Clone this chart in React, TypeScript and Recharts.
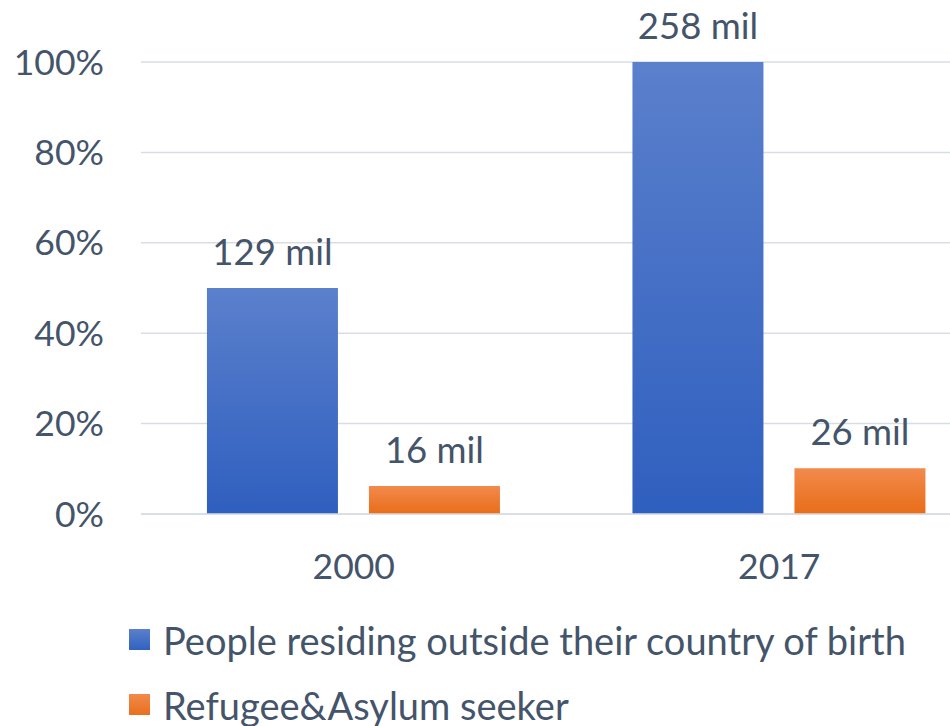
import React from "react";
import { BarChart, Bar, XAxis, YAxis, CartesianGrid, LabelList } from "recharts";

const categories = ["2000", "2017"];
const residingPct = [50, 100];
const refugeePct = [6.2, 10.1];
const residingLabels = ["129 mil", "258 mil"];
const refugeeLabels = ["16 mil", "26 mil"];
const yTicks = [0, 20, 40, 60, 80, 100];
const seriesNames = ["People residing outside their country of birth", "Refugee&Asylum seeker"];

const data = categories.map((c, i) => ({
  year: c,
  residing: residingPct[i],
  refugee: refugeePct[i],
  residingLabel: residingLabels[i],
  refugeeLabel: refugeeLabels[i],
}));

const FONT = "Lato, 'Open Sans', sans-serif";
const TEXT = "#44546a";

const LegendBlock = () => (
  <div style={{ position: "absolute", left: 129, top: 607, fontFamily: FONT, fontSize: 38, lineHeight: "44px", color: TEXT, whiteSpace: "nowrap" }}>
    {seriesNames.map((n, i) => (
      <div key={n} style={{ display: "flex", alignItems: "center", height: 65 }}>
        <span
          style={{
            display: "inline-block",
            width: 21,
            height: 21,
            marginRight: 13,
            background: i === 0 ? "linear-gradient(#5b80cc, #3062c0)" : "linear-gradient(#f28a4c, #e86f1c)",
          }}
        />
        <span>{n}</span>
      </div>
    ))}
  </div>
);

export default function App() {
  return (
    <div style={{ position: "fixed", left: 0, top: 0, width: 950, height: 726, overflow: "hidden", background: "#fff" }}>
      <BarChart
        width={1000}
        height={726}
        data={data}
        margin={{ top: 62, right: 8, bottom: 154, left: 0 }}
        barCategoryGap="15.5%"
        barGap={31}
      >
        <defs>
          <linearGradient id="gBlue" x1="0" y1="0" x2="0" y2="1">
            <stop offset="0%" stopColor="#5b80cc" />
            <stop offset="100%" stopColor="#2f5fbf" />
          </linearGradient>
          <linearGradient id="gOrange" x1="0" y1="0" x2="0" y2="1">
            <stop offset="0%" stopColor="#f28a4c" />
            <stop offset="100%" stopColor="#e86d18" />
          </linearGradient>
        </defs>
        <CartesianGrid vertical={false} stroke="#d9dde3" strokeWidth={1.5} />
        <XAxis
          dataKey="year"
          height={58}
          axisLine={{ stroke: "#d9dde3", strokeWidth: 1.5 }}
          tickLine={false}
          tickSize={0}
          tickMargin={40}
          tick={{ fontFamily: FONT, fontSize: 35.5, fill: TEXT }}
        />
        <YAxis
          width={141}
          domain={[0, 100]}
          ticks={yTicks}
          tickFormatter={(v) => `${v}%`}
          axisLine={false}
          tickLine={false}
          tickSize={0}
          tickMargin={37}
          tick={{ fontFamily: FONT, fontSize: 35.5, fill: TEXT }}
        />
        <Bar dataKey="residing" name={seriesNames[0]} fill="url(#gBlue)" isAnimationActive={false}>
          <LabelList dataKey="residingLabel" position="top" offset={23} style={{ fontFamily: FONT, fontSize: 36.5, fill: TEXT }} />
        </Bar>
        <Bar dataKey="refugee" name={seriesNames[1]} fill="url(#gOrange)" isAnimationActive={false}>
          <LabelList dataKey="refugeeLabel" position="top" offset={23} style={{ fontFamily: FONT, fontSize: 36.5, fill: TEXT }} />
        </Bar>
      </BarChart>
      <LegendBlock />
    </div>
  );
}
